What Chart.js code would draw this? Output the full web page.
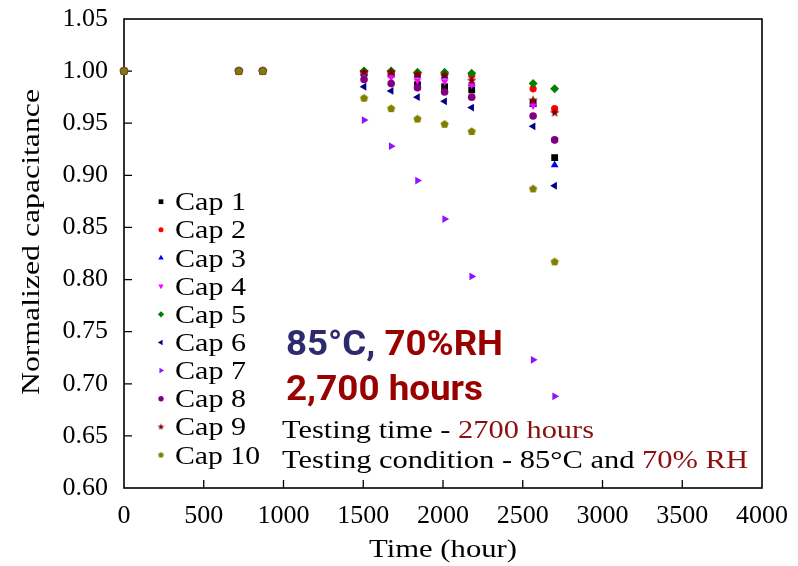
<!DOCTYPE html>
<html>
<head>
<meta charset="utf-8">
<script src="https://cdn.jsdelivr.net/npm/chart.js@4/dist/chart.umd.min.js"></script>
<style>
  html, body { margin: 0; padding: 0; background: #fff; }
  #wrap { width: 798px; height: 566px; }
</style>
</head>
<body>
<div id="wrap"><canvas id="chart" width="798" height="566"></canvas></div>
<script>
// measurement times (hours)
const times = [0, 720, 870, 1505, 1675, 1840, 2010, 2180, 2565, 2700];

// normalized capacitance per capacitor
const cap1  = [1, 1, 1, 0.998, 0.997, 0.987, 0.985, 0.982, 0.969, 0.917];
const cap2  = [1, 1, 1, 0.999, 0.998, 0.997, 0.997, 0.996, 0.983, 0.964];
const cap3  = [1, 1, 1, 0.998, 0.997, 0.996, 0.995, 0.988, 0.968, 0.910];
const cap4  = [1, 1, 1, 0.997, 0.994, 0.991, 0.990, 0.987, 0.967, 0.934];
const cap5  = [1, 1, 1, 1.000, 1.000, 0.999, 0.999, 0.998, 0.988, 0.983];
const cap6  = [1, 1, 1, 0.985, 0.981, 0.975, 0.971, 0.965, 0.947, 0.890];
const cap7  = [1, 1, 1, 0.953, 0.928, 0.895, 0.858, 0.803, 0.723, 0.688];
const cap8  = [1, 1, 1, 0.992, 0.988, 0.984, 0.980, 0.975, 0.957, 0.934];
const cap9  = [1, 1, 1, 0.999, 0.999, 0.997, 0.996, 0.991, 0.972, 0.960];
const cap10 = [1, 1, 1, 0.974, 0.964, 0.954, 0.949, 0.942, 0.887, 0.817];

const capLabels = ["Cap 1", "Cap 2", "Cap 3", "Cap 4", "Cap 5",
                   "Cap 6", "Cap 7", "Cap 8", "Cap 9", "Cap 10"];
const capValues = [cap1, cap2, cap3, cap4, cap5, cap6, cap7, cap8, cap9, cap10];

const xTickValues = [0, 500, 1000, 1500, 2000, 2500, 3000, 3500, 4000];
const yTickValues = [0.60, 0.65, 0.70, 0.75, 0.80, 0.85, 0.90, 0.95, 1.00, 1.05];

const SERIF = "'Liberation Serif', 'Times New Roman', serif";

// small custom markers that Chart.js has no built-in style for
function makeMarker(kind, r, color) {
    const size = Math.ceil(r * 2 + 2);
    const cv = document.createElement("canvas");
    cv.width = size;
    cv.height = size;
    const g = cv.getContext("2d");
    const cx = size / 2, cy = size / 2;
    g.fillStyle = color;
    g.beginPath();
    if (kind === "star") {
        for (let k = 0; k < 10; k++) {
            const rr = k % 2 === 0 ? r : r * 0.42;
            const a = -Math.PI / 2 + k * Math.PI / 5;
            g.lineTo(cx + rr * Math.cos(a), cy + rr * Math.sin(a));
        }
    } else {
        for (let k = 0; k < 5; k++) {
            const a = -Math.PI / 2 + k * 2 * Math.PI / 5;
            g.lineTo(cx + r * Math.cos(a), cy + r * Math.sin(a));
        }
    }
    g.closePath();
    g.fill();
    return cv;
}

const markers = [
    { color: "#000000", style: "rect",      rotation: 0,   radius: 4.8 },
    { color: "#ff0000", style: "circle",    rotation: 0,   radius: 3.6 },
    { color: "#0000ff", style: "triangle",  rotation: 0,   radius: 4.5 },
    { color: "#ff00ff", style: "triangle",  rotation: 180, radius: 4.5 },
    { color: "#008000", style: "rectRot",   rotation: 0,   radius: 4.5 },
    { color: "#00008b", style: "triangle",  rotation: -90, radius: 4.5 },
    { color: "#8c14ff", style: "triangle",  rotation: 90,  radius: 4.5 },
    { color: "#800080", style: "circle",    rotation: 0,   radius: 3.8 },
    { color: "#800000", style: "star",      rotation: 0,   radius: 5.0 },
    { color: "#808000", style: "pentagon",  rotation: 0,   radius: 4.3 }
];
markers.forEach(m => {
    if (m.style === "star" || m.style === "pentagon") {
        m.canvas = makeMarker(m.style, m.radius, m.color);
        m.legendCanvas = makeMarker(m.style, m.radius * 0.7, m.color);
    }
});

const datasets = capLabels.map((label, i) => {
    const m = markers[i];
    return {
        label: label,
        data: times.map((t, j) => ({ x: t, y: capValues[i][j] })),
        showLine: false,
        pointStyle: m.canvas || m.style,
        rotation: m.rotation,
        pointRadius: m.radius,
        pointHoverRadius: m.radius,
        pointBackgroundColor: m.color,
        pointBorderColor: m.color,
        pointBorderWidth: 0,
        clip: false,
        order: capLabels.length - i
    };
});

// draw text squeezed/stretched horizontally to a given width
function fitText(ctx, parts, x, y, width, font, align) {
    ctx.save();
    ctx.font = font;
    let total = 0;
    parts.forEach(p => { total += ctx.measureText(p[0]).width; });
    const sx = width / total;
    ctx.translate(x, y);
    ctx.scale(sx, 1);
    let cx = align === "center" ? -total / 2 : 0;
    ctx.textBaseline = "alphabetic";
    ctx.textAlign = "left";
    parts.forEach(p => {
        ctx.fillStyle = p[1];
        ctx.fillText(p[0], cx, 0);
        cx += ctx.measureText(p[0]).width;
    });
    ctx.restore();
}

const framePlugin = {
    id: "frame",
    beforeDatasetsDraw(chart) {
        const { ctx, chartArea: a, scales } = chart;
        ctx.save();
        ctx.strokeStyle = "#000";
        ctx.lineWidth = 1.6;
        ctx.strokeRect(a.left, a.top, a.right - a.left, a.bottom - a.top);
        ctx.lineWidth = 1.3;
        ctx.beginPath();
        xTickValues.slice(1, -1).forEach(v => {
            const px = scales.x.getPixelForValue(v);
            ctx.moveTo(px, a.bottom);
            ctx.lineTo(px, a.bottom - 8);
        });
        yTickValues.slice(1, -1).forEach(v => {
            const py = scales.y.getPixelForValue(v);
            ctx.moveTo(a.left, py);
            ctx.lineTo(a.left + 8, py);
        });
        ctx.stroke();
        ctx.restore();
    },
    afterDraw(chart) {
        const { ctx, chartArea: a } = chart;

        // axis titles
        fitText(ctx, [["Time (hour)", "#000"]], (a.left + a.right) / 2, 557, 148,
                "26px " + SERIF, "center");
        ctx.save();
        ctx.translate(39, 242);
        ctx.rotate(-Math.PI / 2);
        fitText(ctx, [["Normalized capacitance", "#000"]], 0, 0, 306,
                "26px " + SERIF, "center");
        ctx.restore();

        // legend
        capLabels.forEach((label, i) => {
            const m = markers[i];
            const y = 201.7 + i * 28.15;
            ctx.save();
            ctx.fillStyle = m.color;
            Chart.helpers.drawPoint(ctx, {
                pointStyle: m.legendCanvas || m.style,
                rotation: m.rotation,
                radius: m.radius * 0.7,
                borderWidth: 0
            }, 161, y);
            ctx.restore();
            const w = label.length > 5 ? 85 : 71;
            fitText(ctx, [[label, "#000"]], 175, y + 8.5, w, "26px " + SERIF, "left");
        });

        // annotations
        const bold = "700 35px Roboto, 'Noto Sans', sans-serif";
        fitText(ctx, [["85°C, ", "#2e2a6e"], ["70%RH", "#990000"]], 286, 355, 217, bold, "left");
        fitText(ctx, [["2,700 hours", "#990000"]], 286, 400, 197, bold, "left");
        fitText(ctx, [["Testing time - ", "#000"], ["2700 hours", "#8b1010"]],
                282, 438, 312, "26px " + SERIF, "left");
        fitText(ctx, [["Testing condition - 85°C and ", "#000"], ["70% RH", "#8b1010"]],
                282, 468, 466, "26px " + SERIF, "left");
    }
};

const ctx = document.getElementById("chart");

new Chart(ctx, {
    type: "scatter",
    data: { datasets: datasets },
    options: {
        responsive: false,
        animation: false,
        devicePixelRatio: 1,
        layout: { padding: { top: 19, right: 36, left: 0, bottom: 0 } },
        scales: {
            x: {
                type: "linear",
                min: 0,
                max: 4000,
                afterBuildTicks: s => { s.ticks = xTickValues.map(v => ({ value: v })); },
                afterFit: s => {
                    s.height = 78;
                    s.paddingLeft = 0;
                    s.paddingRight = 0;
                },
                grid: { display: false, drawTicks: false },
                border: { display: false },
                ticks: {
                    color: "#000",
                    padding: 13,
                    maxRotation: 0,
                    autoSkip: false,
                    font: { family: SERIF, size: 26 },
                    callback: v => String(v)
                }
            },
            y: {
                type: "linear",
                min: 0.6,
                max: 1.05,
                afterBuildTicks: s => { s.ticks = yTickValues.map(v => ({ value: v })); },
                afterFit: s => {
                    s.width = 124;
                    s.paddingTop = 0;
                    s.paddingBottom = 0;
                },
                grid: { display: false, drawTicks: false },
                border: { display: false },
                ticks: {
                    color: "#000",
                    padding: 16,
                    autoSkip: false,
                    font: { family: SERIF, size: 26 },
                    callback: v => Number(v).toFixed(2)
                }
            }
        },
        plugins: {
            legend: { display: false },
            tooltip: { enabled: false }
        }
    },
    plugins: [framePlugin]
});
</script>
</body>
</html>
